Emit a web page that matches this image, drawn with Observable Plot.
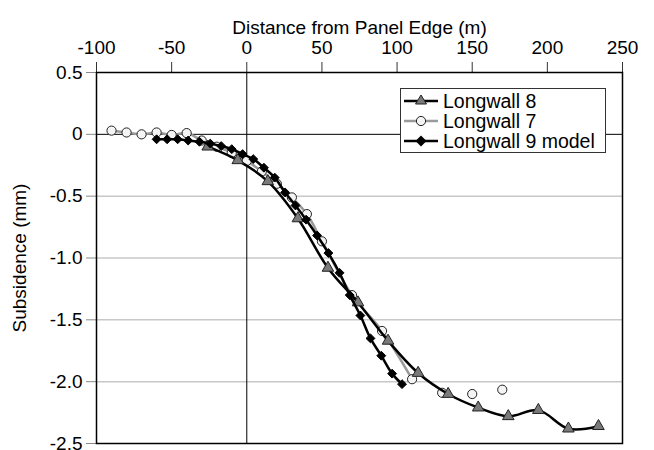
<!DOCTYPE html>
<html>
<head>
<meta charset="utf-8">
<script src="https://cdn.jsdelivr.net/npm/d3@7"></script>
<script src="https://cdn.jsdelivr.net/npm/@observablehq/plot@0.6"></script>
<style>
  html, body { margin: 0; padding: 0; background: white; }
  #wrap { position: relative; width: 654px; height: 450px; font-family: "Liberation Sans", Arial, sans-serif; }
  #legend { position: absolute; left: 400px; top: 88px; width: 206px; height: 65px; border: 1px solid #333; background: white; box-sizing: border-box; padding-top: 2px; }
  .row { display: flex; align-items: center; height: 20px; font-size: 19.5px; color: black; }
  .row svg { margin-left: 3px; margin-right: 5px; flex: none; }
</style>
</head>
<body>
<div id="wrap"></div>
<script>
// ---- data ----
const xTicks = [-100, -50, 0, 50, 100, 150, 200, 250];
const yTicks = [0.5, 0, -0.5, -1.0, -1.5, -2.0, -2.5];
const gridY = [-0.5, -1.0, -1.5, -2.0];

const lw8X = [-26, -6, 14, 34, 54, 74, 94, 114, 134, 154, 174, 194, 214, 234];
const lw8Y = [-0.10, -0.21, -0.38, -0.68, -1.08, -1.36, -1.67, -1.93, -2.10, -2.21, -2.28, -2.23, -2.38, -2.36];

const lw7X = [-90, -80, -70, -60, -50, -40, -30, -20, -10, 0, 10, 20, 30, 40, 50, 70, 90, 110, 130, 150, 170];
const lw7Y = [0.03, 0.015, 0.0, 0.015, -0.005, 0.01, -0.05, -0.10, -0.15, -0.215, -0.30, -0.40, -0.51, -0.645, -0.865, -1.30, -1.59, -1.98, -2.09, -2.10, -2.065];
const lw7LineEnd = 110;

const lw9X = [-60, -53, -46, -39, -31.5, -24.3, -17, -10, -2.8, 4.3, 11.4, 18.6, 25.5, 32.4, 39.5, 46.8, 54.3, 61.7, 68.5, 75.6, 82.3, 89.5, 96.7, 103.3];
const lw9Y = [-0.04, -0.04, -0.04, -0.05, -0.06, -0.075, -0.095, -0.12, -0.16, -0.20, -0.27, -0.35, -0.47, -0.575, -0.69, -0.818, -0.96, -1.12, -1.30, -1.465, -1.65, -1.79, -1.935, -2.02];

const seriesNames = ["Longwall 8", "Longwall 7", "Longwall 9 model"];

const lw8 = lw8X.map((x, i) => ({x, y: lw8Y[i]}));
const lw7 = lw7X.map((x, i) => ({x, y: lw7Y[i]}));
const lw9 = lw9X.map((x, i) => ({x, y: lw9Y[i]}));

const font = '"Liberation Sans", Arial, sans-serif';

const chart = Plot.plot({
  width: 654,
  height: 450,
  marginLeft: 96,
  marginRight: 32,
  marginTop: 72,
  marginBottom: 7,
  style: {fontFamily: font, fontSize: "18px", color: "black", background: "white", overflow: "visible"},
  x: {domain: [-100, 250]},
  y: {domain: [-2.5, 0.5]},
  marks: [
    Plot.ruleY(gridY, {stroke: "#c8c8c8", strokeWidth: 1.5}),
    Plot.ruleY([0], {stroke: "black", strokeWidth: 1}),
    Plot.ruleX([0], {stroke: "black", strokeWidth: 1}),
    Plot.axisX({anchor: "top", ticks: xTicks, tickSize: 11, tickPadding: 8, tickFormat: d => String(d),
      stroke: "#333", fontSize: 19, label: "Distance from Panel Edge (m)", labelAnchor: "center", labelArrow: "none", labelOffset: 52}),
    Plot.axisY({anchor: "left", ticks: yTicks, tickSize: 10, tickPadding: 4,
      tickFormat: d => d === 0 ? "0" : d.toFixed(1), stroke: "#888", fontSize: 19,
      label: "Subsidence (mm)", labelAnchor: "center", labelArrow: "none", labelOffset: 84}),
    // Longwall 7
    Plot.line(lw7.filter(d => d.x <= lw7LineEnd), {x: "x", y: "y", stroke: "#9a9a9a", strokeWidth: 2.5, curve: "catmull-rom"}),
    Plot.dot(lw7, {x: "x", y: "y", symbol: "circle", r: 4.6, fill: "#f4f4f4", stroke: "#222", strokeWidth: 1}),
    // Longwall 8
    Plot.line(lw8, {x: "x", y: "y", stroke: "black", strokeWidth: 2.5, curve: "catmull-rom"}),
    Plot.dot(lw8, {x: "x", y: "y", symbol: "triangle", r: 4.3, fill: "#7a7a7a", stroke: "#222", strokeWidth: 1}),
    // Longwall 9 model
    Plot.line(lw9, {x: "x", y: "y", stroke: "black", strokeWidth: 2.5, curve: "catmull-rom"}),
    Plot.dot(lw9, {x: "x", y: "y", symbol: "diamond2", r: 4, fill: "black", stroke: "black", strokeWidth: 1}),
    Plot.frame({stroke: "black", strokeWidth: 1.5})
  ]
});

const wrap = document.getElementById("wrap");
wrap.appendChild(chart);

// legend
const legend = document.createElement("div");
legend.id = "legend";
const sym = [
  `<path d="M11,1 L16.5,10 L5.5,10 Z" fill="#7a7a7a" stroke="#222" stroke-width="1"/>`,
  `<circle cx="11" cy="7" r="4.6" fill="#f4f4f4" stroke="#222" stroke-width="1"/>`,
  `<path d="M11,1.5 L16.5,7 L11,12.5 L5.5,7 Z" fill="black"/>`
];
const lineCol = ["black", "#9a9a9a", "black"];
seriesNames.forEach((name, i) => {
  const row = document.createElement("div");
  row.className = "row";
  row.innerHTML = `<svg width="34" height="14" viewBox="-6 0 34 14"><line x1="-6" x2="28" y1="7" y2="7" stroke="${lineCol[i]}" stroke-width="2.5"/>${sym[i]}</svg><span>${name}</span>`;
  legend.appendChild(row);
});
wrap.appendChild(legend);
</script>
</body>
</html>
